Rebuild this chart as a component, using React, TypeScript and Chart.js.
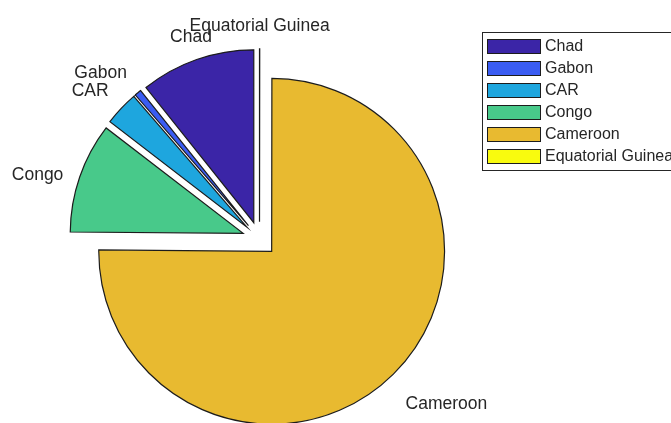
import React, { useEffect, useRef } from "react";
import { Chart, registerables } from "chart.js";

Chart.register(...registerables);

// ---- data (in legend order; MATLAB draws these counter-clockwise from 12 o'clock)
const countries = ["Chad", "Gabon", "CAR", "Congo", "Cameroon", "Equatorial Guinea"];
const shares = [10.7, 0.64, 3.2, 10.3, 75.0, 0.02];
const sliceColors = ["#3B25A7", "#3A5CF2", "#1EA6DE", "#48C98A", "#E8BA30", "#F9FB0E"];

const FONT = '"Liberation Sans", Arial, Helvetica, sans-serif';
const TEXT = "#262626";
const EDGE = "#1c1c1c";
const EXPLODE = 0.1; // fraction of radius

// Chart.js goes clockwise, so reverse to mimic MATLAB's counter-clockwise order
const drawLabels = [...countries].reverse();
const drawValues = [...shares].reverse();
const drawColors = [...sliceColors].reverse();

const explodePlugin = {
  id: "explodeSlices",
  beforeDatasetDraw(chart: any, args: any) {
    const meta = chart.getDatasetMeta(args.index);
    meta.data.forEach((arc: any) => {
      const mid = (arc.startAngle + arc.endAngle) / 2;
      const d = arc.outerRadius * EXPLODE;
      arc._ox = arc.x;
      arc._oy = arc.y;
      arc.x = arc._ox + Math.cos(mid) * d;
      arc.y = arc._oy + Math.sin(mid) * d;
    });
  },
  afterDatasetDraw(chart: any, args: any) {
    const meta = chart.getDatasetMeta(args.index);
    meta.data.forEach((arc: any) => {
      if (arc._ox !== undefined) {
        arc.x = arc._ox;
        arc.y = arc._oy;
      }
    });
  },
};

const sliceLabelPlugin = {
  id: "sliceLabels",
  afterDatasetsDraw(chart: any) {
    const ctx = chart.ctx;
    const meta = chart.getDatasetMeta(0);
    const fs = 17.5;
    ctx.save();
    ctx.font = `${fs}px ${FONT}`;
    ctx.fillStyle = TEXT;
    meta.data.forEach((arc: any, i: number) => {
      const mid = (arc.startAngle + arc.endAngle) / 2;
      const R = arc.outerRadius;
      const ux = Math.cos(mid);
      const uy = Math.sin(mid);
      const dist = R * EXPLODE + R * 1.1;
      const px = arc.x + ux * dist;
      let py = arc.y + uy * dist;
      ctx.textAlign = ux < -0.5 ? "right" : ux > 0.5 ? "left" : "center";
      if (uy < -0.5) {
        ctx.textBaseline = "alphabetic";
        py -= 1;
      } else if (uy > 0.5) {
        ctx.textBaseline = "top";
        py += fs * 0.5;
      } else {
        ctx.textBaseline = "middle";
        py += 4;
      }
      ctx.fillText(String(chart.data.labels[i]), px, py);
    });
    ctx.restore();
  },
};

const legendPlugin = {
  id: "boxLegend",
  afterDraw(chart: any) {
    const ctx = chart.ctx;
    const left = 482;
    const top = 32;
    const right = 690;
    const bottom = 170;
    const rowH = 22;
    ctx.save();
    ctx.fillStyle = "#ffffff";
    ctx.fillRect(left, top, right - left, bottom - top);
    ctx.strokeStyle = "#262626";
    ctx.lineWidth = 1;
    ctx.strokeRect(left + 0.5, top + 0.5, right - left, bottom - top);
    ctx.font = `16px ${FONT}`;
    ctx.textAlign = "left";
    ctx.textBaseline = "middle";
    countries.forEach((name, i) => {
      const y = top + 7 + i * rowH;
      ctx.fillStyle = sliceColors[i];
      ctx.fillRect(487, y, 54, 15);
      ctx.strokeStyle = EDGE;
      ctx.strokeRect(487.5, y + 0.5, 53, 14);
      ctx.fillStyle = TEXT;
      ctx.fillText(name, 545, y + 8);
    });
    ctx.restore();
  },
};

export default function App() {
  const canvasRef = useRef<HTMLCanvasElement | null>(null);

  useEffect(() => {
    if (!canvasRef.current) return;
    const chart = new Chart(canvasRef.current, {
      type: "pie",
      data: {
        labels: drawLabels,
        datasets: [
          {
            data: drawValues,
            backgroundColor: drawColors,
            borderColor: EDGE,
            borderWidth: 1.2,
            hoverBorderWidth: 1.2,
            hoverOffset: 0,
            offset: 0,
            borderJoinStyle: "miter",
            clip: false,
          } as any,
        ],
      },
      options: {
        animation: false,
        responsive: true,
        maintainAspectRatio: false,
        rotation: 0,
        layout: { padding: { left: 86, top: 65.5, right: 238, bottom: 10.5 } },
        plugins: {
          legend: { display: false },
          tooltip: { enabled: false },
          title: { display: false },
        },
        events: [],
      },
      plugins: [explodePlugin, sliceLabelPlugin, legendPlugin],
    });
    return () => chart.destroy();
  }, []);

  return (
    <div
      style={{
        position: "fixed",
        left: 0,
        top: 0,
        width: 671,
        height: 423,
        background: "#ffffff",
      }}
    >
      <canvas ref={canvasRef} />
    </div>
  );
}
